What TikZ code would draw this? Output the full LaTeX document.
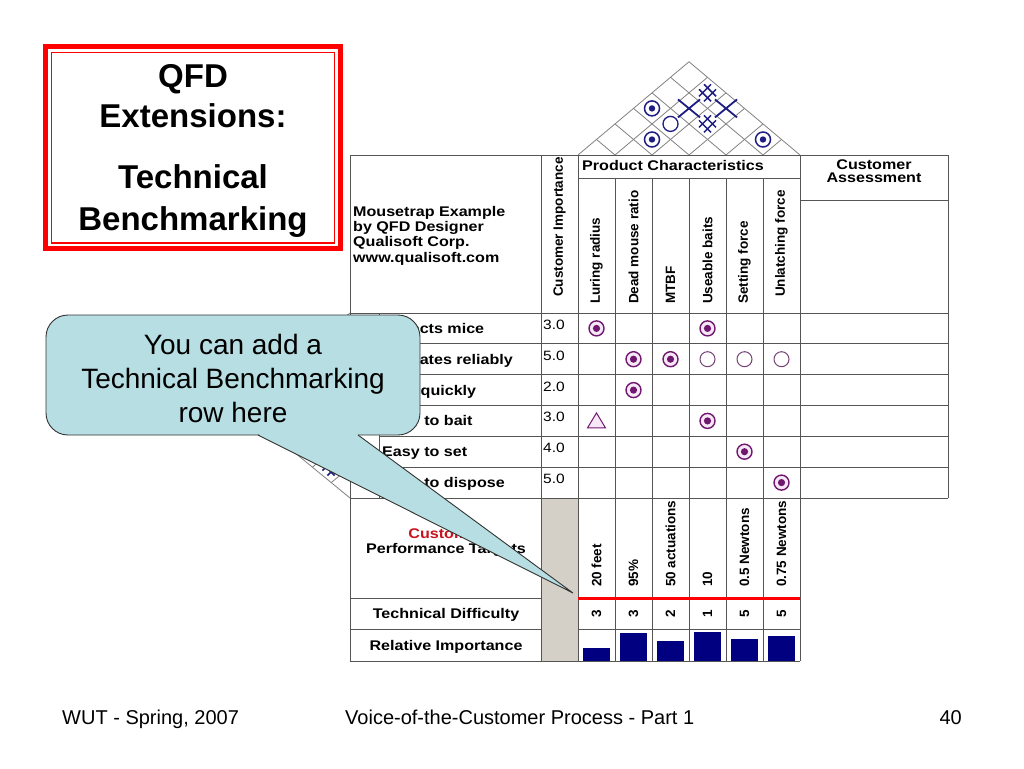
\documentclass[tikz,border=0pt]{standalone}
\usepackage{fontspec}
\setmainfont{Liberation Sans}
\newfontfamily\tblfont[FakeStretch=1.15]{Liberation Sans}
\definecolor{navyb}{RGB}{0,0,128}
\definecolor{roofc}{RGB}{30,30,130}
\definecolor{purp}{RGB}{112,24,112}
\definecolor{pinkf}{RGB}{246,232,246}
\definecolor{callf}{RGB}{183,222,226}
\definecolor{colgray}{RGB}{212,208,200}
\definecolor{redt}{RGB}{200,20,30}
\definecolor{gridc}{RGB}{85,85,85}
\definecolor{roofl}{RGB}{130,130,130}
\tikzset{
  grid/.style={draw=gridc, line width=1pt},
  roofline/.style={draw=roofl, line width=0.8pt},
  titletext/.style={font=\bfseries\fontsize{33}{38}\selectfont, anchor=base, inner sep=0},
  calltext/.style={font=\fontsize{28}{34}\selectfont, anchor=base, inner sep=0},
  foot/.style={font=\fontsize{20}{24}\selectfont, inner sep=0},
  tb/.style={font=\tblfont\bfseries\fontsize{14}{16}\selectfont, inner sep=0},
  num/.style={font=\tblfont\fontsize{13.5}{15}\selectfont, inner sep=0, anchor=base west},
  rot/.style={font=\bfseries\fontsize{13.5}{15}\selectfont, inner sep=0, rotate=90, anchor=west},
  callborder/.style={draw=black!80, line width=0.9pt},
  pics/rstrong/.style={code={\draw[roofc, line width=1.5pt, fill=white] (0,0) circle[radius=7.5pt]; \fill[roofc] (0,0) circle[radius=3.2pt];}},
  pics/rmed/.style={code={\draw[roofc, line width=1.3pt, fill=white] (0,0) circle[radius=7.5pt];}},
  pics/rneg/.style={code={\draw[roofc, line width=1.8pt] (-11,-9) -- (11,9) (-11,9) -- (11,-9);}},
  pics/rsneg/.style={code={\draw[roofc, line width=1.5pt] (-3.5,-8.5) -- (8.5,3.5) (-8.5,-3.5) -- (3.5,8.5) (-3.5,8.5) -- (8.5,-3.5) (-8.5,3.5) -- (3.5,-8.5);}},
  pics/bstrong/.style={code={\draw[purp, line width=1.4pt, fill=pinkf] (0,0) circle[radius=7.5pt]; \fill[purp] (0,0) circle[radius=3.6pt];}},
  pics/bmed/.style={code={\draw[purp!60!gray, line width=1pt, fill=white] (0,0) circle[radius=7.5pt];}},
  pics/bweak/.style={code={\draw[purp, line width=1pt, fill=pinkf] (0,-8) -- (9,7) -- (-9,7) -- cycle;}},
}
\begin{document}
\begin{tikzpicture}[x=1pt,y=-1pt]
\useasboundingbox (0,0) rectangle (1024,768);
\fill[white] (0,0) rectangle (1024,768);

% ---------- title box ----------
\draw[red, line width=5pt] (45.5,46.5) rectangle (340.5,248.5);
\draw[red, line width=1.5pt] (51.5,52.5) rectangle (334.5,243);
\node[titletext] (t1) at (193,87) {QFD};
\node[titletext] (t2) at (193,127) {Extensions:};
\node[titletext] (t3) at (193,188) {Technical};
\node[titletext] (t4) at (193,230.5) {Benchmarking};

% ---------- roof ----------
\foreach \k in {0,...,6}{
  \pgfmathsetmacro\xb{578+37*\k}
  \pgfmathsetmacro\xr{(\xb+800)/2}
  \pgfmathsetmacro\yr{155-0.84*(800-\xb)/2}
  \pgfmathsetmacro\xl{(578+\xb)/2}
  \pgfmathsetmacro\yl{155-0.84*(\xb-578)/2}
  \draw[roofline] (\xl,\yl) -- (\xb,155) -- (\xr,\yr);
}
\pic at (652,108.4) {rstrong};
\pic at (652,139.5) {rstrong};
\pic at (670.5,123.9) {rmed};
\pic at (689,108.4) {rneg};
\pic at (707.5,92.8) {rsneg};
\pic at (726,108.4) {rneg};
\pic at (707.5,123.9) {rsneg};
\pic at (763,139.5) {rstrong};

% ---------- left roof (mostly hidden) ----------
\foreach \m in {0,...,6}{
  \pgfmathsetmacro\ym{313+30.833*\m}
  \pgfmathsetmacro\xd{350-1.22*(498-\ym)/2}
  \pgfmathsetmacro\yd{(498+\ym)/2}
  \pgfmathsetmacro\xu{350-1.22*(\ym-313)/2}
  \pgfmathsetmacro\yu{(\ym+313)/2}
  \draw[roofline] (\xu,\yu) -- (350,\ym) -- (\xd,\yd);
}
\pic at (331,467) {rsneg};

% ---------- table fills ----------
\fill[colgray] (541,498) rectangle (578,661);

% ---------- grid ----------
\draw[grid] (350,155) -- (948,155);
\draw[grid] (350,155) -- (350,661);
\draw[grid] (948,155) -- (948,498);
\draw[grid] (800,155) -- (800,661);
\draw[grid] (541,155) -- (541,661);
\draw[grid] (578,155) -- (578,661);
\foreach \x in {615,652,689,726,763} \draw[grid] (\x,178) -- (\x,661);
\draw[grid] (578,178) -- (800,178);
\draw[grid] (800,200) -- (948,200);
\draw[grid] (350,313) -- (948,313);
\foreach \y in {343.8,374.7,405.5,436.3,467.2} \draw[grid] (379,\y) -- (948,\y);
\draw[grid] (379,313) -- (379,498);
\draw[grid] (350,498) -- (948,498);
\draw[grid] (350,598) -- (541,598);
\draw[grid] (350,629) -- (541,629);
\draw[grid] (578,629) -- (800,629);
\draw[grid] (350,661) -- (800,661);
\draw[red, line width=3pt] (578,598) -- (800,598);

% ---------- header texts ----------
\node[tb, anchor=base west] (m1) at (353,216) {Mousetrap Example};
\node[tb, anchor=base west] (m2) at (353,231.3) {by QFD Designer};
\node[tb, anchor=base west] (m3) at (353,246.6) {Qualisoft Corp.};
\node[tb, anchor=base west] (m4) at (353,262) {www.qualisoft.com};
\node[tb, anchor=base west] (pc) at (582,170) {Product Characteristics};
\node[tb, anchor=base] (ca1) at (874,169) {Customer};
\node[tb, anchor=base] (ca2) at (874,182.5) {Assessment};
\node[rot] (ci) at (559.5,297) {Customer Importance};
\node[rot] (h1) at (596.5,304) {Luring radius};
\node[rot] (h2) at (633.5,304) {Dead mouse ratio};
\node[rot] (h3) at (670.5,304) {MTBF};
\node[rot] (h4) at (707.5,304) {Useable baits};
\node[rot] (h5) at (744.5,304) {Setting force};
\node[rot] (h6) at (781.5,297) {Unlatching force};

% ---------- rows ----------
\node[tb, anchor=base west] (r1) at (382,333.4) {Attracts mice};
\node[tb, anchor=base west] (r2) at (382,364.2) {Operates reliably};
\node[tb, anchor=base west] (r3) at (382,395.1) {Kills quickly};
\node[tb, anchor=base west] (r4) at (382,425.9) {Easy to bait};
\node[tb, anchor=base west] (r5) at (382,456.7) {Easy to set};
\node[tb, anchor=base west] (r6) at (382,487.6) {Easy to dispose};
\node[num] (n1) at (543,329.4) {3.0};
\node[num] (n2) at (543,360.2) {5.0};
\node[num] (n3) at (543,391.1) {2.0};
\node[num] (n4) at (543,421.9) {3.0};
\node[num] (n5) at (543,452.7) {4.0};
\node[num] (n6) at (543,483.6) {5.0};

% ---------- relationship symbols ----------
\pic at (596.5,328.4) {bstrong};
\pic at (707.5,328.4) {bstrong};
\pic at (633.5,359.2) {bstrong};
\pic at (670.5,359.2) {bstrong};
\pic at (707.5,359.2) {bmed};
\pic at (744.5,359.2) {bmed};
\pic at (781.5,359.2) {bmed};
\pic at (633.5,390.1) {bstrong};
\pic at (596.5,420.9) {bweak};
\pic at (707.5,420.9) {bstrong};
\pic at (744.5,451.7) {bstrong};
\pic at (781.5,482.6) {bstrong};

% ---------- lower section ----------
\node[tb, anchor=base, text=redt] (lt1) at (446,538) {Customer};
\node[tb, anchor=base] (lt2) at (446,553) {Performance Targets};
\node[tb, anchor=base] (td) at (446,618.5) {Technical Difficulty};
\node[tb, anchor=base] (ri) at (446,650) {Relative Importance};
\node[rot] (v1) at (596.5,587) {20 feet};
\node[rot] (v2) at (633.5,587) {95\%};
\node[rot] (v3) at (670.5,587) {50 actuations};
\node[rot] (v4) at (707.5,587) {10};
\node[rot] (v5) at (744.5,587) {0.5 Newtons};
\node[rot] (v6) at (781.5,587) {0.75 Newtons};
\node[rot, anchor=center] (d1) at (596.5,614) {3};
\node[rot, anchor=center] (d2) at (633.5,614) {3};
\node[rot, anchor=center] (d3) at (670.5,614) {2};
\node[rot, anchor=center] (d4) at (707.5,614) {1};
\node[rot, anchor=center] (d5) at (744.5,614) {5};
\node[rot, anchor=center] (d6) at (781.5,614) {5};
\fill[navyb] (583,648) rectangle (610,661);
\fill[navyb] (620,633) rectangle (647,661);
\fill[navyb] (657,641) rectangle (684,661);
\fill[navyb] (694,632) rectangle (721,661);
\fill[navyb] (731,639) rectangle (758,661);
\fill[navyb] (768,636) rectangle (795,661);

% ---------- callout ----------
\fill[callf] (258,435) -- (573,593) -- (358,435) -- cycle;
\draw[callborder, fill=callf, rounded corners=22pt] (46,315) rectangle (420,435);
\fill[callf] (259,433.5) -- (357,433.5) -- (359.5,436.2) -- (260.4,436.2) -- cycle;
\draw[callborder, line join=miter] (258,435) -- (573,593) -- (358,435);
\node[calltext] (c1) at (233,354) {You can add a};
\node[calltext] (c2) at (233,388) {Technical Benchmarking};
\node[calltext] (c3) at (233,422) {row here};

% ---------- footer ----------
\node[foot, anchor=base west] (f1) at (62,724) {WUT - Spring, 2007};
\node[foot, anchor=base west] (f2) at (345,724) {Voice-of-the-Customer Process - Part 1};
\node[foot, anchor=base east] (f3) at (962,724) {40};
\end{tikzpicture}
\end{document}
